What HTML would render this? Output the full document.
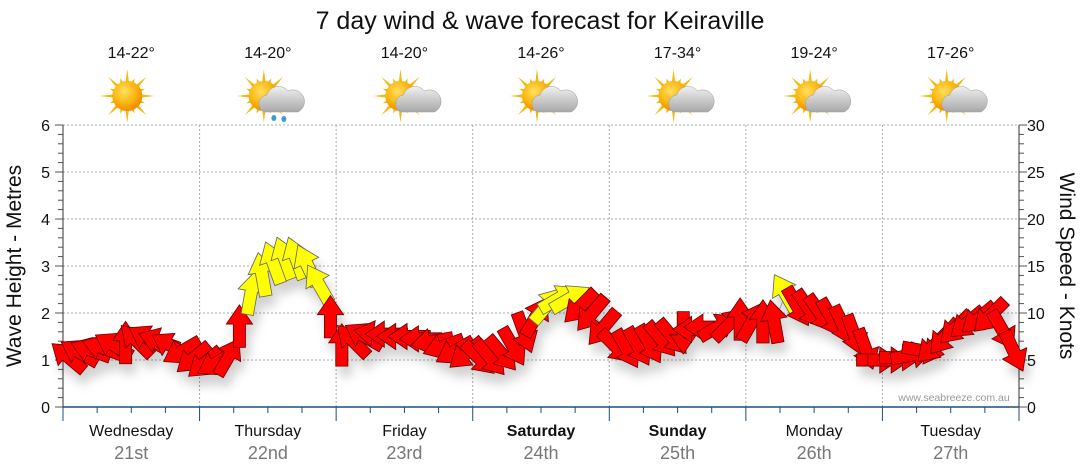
<!DOCTYPE html>
<html><head><meta charset="utf-8"><style>
body{margin:0;background:#fff;}
svg{display:block;font-family:"Liberation Sans",sans-serif;}
</style></head><body>
<svg id="c" width="1080" height="475" viewBox="0 0 1080 475" xmlns="http://www.w3.org/2000/svg">
<defs>
<filter id="sh" x="-50%" y="-50%" width="200%" height="200%"><feDropShadow dx="4" dy="10" stdDeviation="5" flood-color="#000" flood-opacity="0.18"/></filter>
<radialGradient id="sun" cx="40%" cy="35%" r="65%"><stop offset="0" stop-color="#ffe060"/><stop offset="0.6" stop-color="#fbb60e"/><stop offset="1" stop-color="#f08a00"/></radialGradient>
<linearGradient id="cloud" x1="0" y1="0" x2="0" y2="1"><stop offset="0" stop-color="#f0f0f0"/><stop offset="1" stop-color="#a8a8a8"/></linearGradient>
</defs>
<text x="540" y="29" text-anchor="middle" font-size="25" fill="#111">7 day wind &amp; wave forecast for Keiraville</text>
<g id="grid"></g>
<g id="axes"></g>
<g id="days"></g>
<g id="marks" filter="url(#sh)"></g>
<text x="954" y="401" text-anchor="middle" font-size="10.5" fill="#999">www.seabreeze.com.au</text>
<text transform="translate(21,266) rotate(-90)" text-anchor="middle" font-size="21" fill="#111">Wave Height - Metres</text>
<text transform="translate(1060,266) rotate(90)" text-anchor="middle" font-size="21" fill="#111">Wind Speed - Knots</text>
</svg>
<script>
const dayNames=["Wednesday","Thursday","Friday","Saturday","Sunday","Monday","Tuesday"];
const dates=["21st","22nd","23rd","24th","25th","26th","27th"];
const temps=["14-22°","14-20°","14-20°","14-26°","17-34°","19-24°","17-26°"];
const icons=["sun","rain","cloud","cloud","cloud","cloud","cloud"];
const waveTicks=[0,1,2,3,4,5,6];
const windTicks=[0,5,10,15,20,25,30];
// 2-hourly samples (12 per day)
const waveHeight=[1.05,1.15,1.2,1.25,1.3,1.35,1.4,1.45,1.4,1.3,1.2,1.05,
0.95,0.95,1.05,1.7,2.4,2.8,3.05,3.15,3.15,3.0,2.6,1.9,
1.3,1.4,1.5,1.55,1.55,1.5,1.5,1.45,1.4,1.3,1.2,1.15,
1.05,1.05,1.15,1.3,1.6,1.9,2.15,2.3,2.3,2.15,2.0,1.7,
1.3,1.25,1.3,1.35,1.45,1.5,1.6,1.65,1.7,1.7,1.75,1.85,
1.8,1.8,1.8,2.4,2.15,2.1,2.0,1.9,1.75,1.55,1.25,1.0,
1.0,1.05,1.1,1.2,1.3,1.5,1.7,1.8,1.9,1.95,1.65,1.2];
const windDir=[-50,-60,-70,-70,-60,0,-45,-60,-70,-60,-120,-130,
-130,-120,30,0,10,-10,-20,-20,-20,-25,-30,0,
0,-45,-60,-80,-90,-90,-90,-90,-100,-110,-120,-130,
135,140,140,150,160,30,40,60,60,-135,-140,-140,
135,150,150,150,140,140,180,-90,-90,60,45,0,
30,0,-10,-30,150,145,145,150,155,160,160,90,
90,90,80,100,-135,-140,-135,-130,-130,-135,150,155];
const windSpeed=[7,7,7,7,7,8,8,8,8,7,7,7,7,7,7,8,9,10,10,10,10,10,9,8,8,8,8,8,8,8,8,8,8,8,8,8,8,8,8,8,8,9,9,9,9,9,9,9,8,8,8,8,8,8,8,8,8,8,8,8,9,9,9,9,9,9,9,9,8,8,8,8,8,8,8,8,8,8,8,8,8,9,9,9];
const yellow=[0,0,0,0,0,0,0,0,0,0,0,0, 0,0,0,0,1,1,1,1,1,1,1,0, 0,0,0,0,0,0,0,0,0,0,0,0, 0,0,0,0,0,0,1,1,1,0,0,0, 0,0,0,0,0,0,0,0,0,0,0,0, 0,0,0,1,0,0,0,0,0,0,0,0, 0,0,0,0,0,0,0,0,0,0,0,0];

const X0=63,X1=1019,Y0=407,Y1=125;
const NS="http://www.w3.org/2000/svg";
const xs=t=>X0+(X1-X0)*t/(7*24);
const yL=v=>Y0-(Y0-Y1)*v/6;
const yR=v=>Y0-(Y0-Y1)*v/30;
function el(tag,attrs,parent,txt){const e=document.createElementNS(NS,tag);for(const k in attrs)e.setAttribute(k,attrs[k]);if(txt!==undefined)e.textContent=txt;parent.appendChild(e);return e;}
const grid=document.getElementById('grid'),axes=document.getElementById('axes'),days=document.getElementById('days'),marks=document.getElementById('marks');
waveTicks.forEach(v=>{
 if(v>0){const g=el('line',{x1:X0,x2:X1,y1:yL(v),y2:yL(v),stroke:'#aaa','stroke-dasharray':'2,2'},grid);
 
 }
 const t=el('text',{x:50,y:yL(v)+6,'text-anchor':'end','font-size':16,fill:'#111'},axes,v);
 
 
});
for(let i=0;i<=30;i++){const v=i*0.2;el('line',{x1:X0-(i%5==0?8:5),x2:X0,y1:yL(v),y2:yL(v),stroke:'#555'},axes);}
for(let i=0;i<=30;i++){el('line',{x1:X1,x2:X1+(i%5==0?8:5),y1:yR(i),y2:yR(i),stroke:'#555'},axes);}
windTicks.forEach(v=>{const t=el('text',{x:1027,y:yR(v)+6,'font-size':16,fill:'#111'},axes,v);
 
 });
el('line',{x1:X0,x2:X0,y1:Y1,y2:Y0,stroke:'#333'},axes);
el('line',{x1:X1,x2:X1,y1:Y1,y2:Y0,stroke:'#333'},axes);
el('line',{x1:X0,x2:X1,y1:Y0,y2:Y0,stroke:'#1f4e79','stroke-width':1.5},axes);
for(let h=0;h<=168;h+=6){el('line',{x1:xs(h),x2:xs(h),y1:Y0,y2:Y0+(h%24==0?14:6),stroke:'#1f4e79'},axes);}
for(let d=0;d<7;d++){
 if(d>0){const g=el('line',{x1:xs(d*24),x2:xs(d*24),y1:Y1,y2:Y0,stroke:'#aaa','stroke-dasharray':'2,2'},grid);
 
 }
 const cx=xs(d*24+12);
 const a=el('text',{x:cx,y:436,'text-anchor':'middle','font-size':16,fill:'#111','font-weight':(d==3||d==4)?'bold':'normal'},days,dayNames[d]);
 
 
 const b=el('text',{x:cx,y:459,'text-anchor':'middle','font-size':18,fill:'#777'},days,dates[d]);
 
 
 const t=el('text',{x:cx,y:58,'text-anchor':'middle','font-size':16,fill:'#111'},days,temps[d]);
 
 
 const g=el('g',{transform:`translate(${cx-4},96)`},days);
 
 
 let rays='';for(let k=0;k<16;k++){const an=k*Math.PI/8,L=k%2?19:27;rays+=`M${Math.cos(an-0.12)*14},${Math.sin(an-0.12)*14}L${Math.cos(an)*L},${Math.sin(an)*L}L${Math.cos(an+0.12)*14},${Math.sin(an+0.12)*14}Z`;}
 el('path',{d:rays,fill:'#f5b80f'},g);
 el('circle',{r:15,fill:'url(#sun)'},g);
 if(icons[d]!='sun'){
  el('path',{d:'M0,16 a9,9 0 0 1 3,-17 a12,12 0 0 1 21,-4 a10,10 0 0 1 10,21 Z',fill:'url(#cloud)',stroke:'#999','stroke-width':0.5},g);
  if(icons[d]=='rain'){el('ellipse',{cx:10,cy:22,rx:2.5,ry:3,fill:'#3a9be0'},g);el('ellipse',{cx:20,cy:23,rx:2.5,ry:3,fill:'#3a9be0'},g);}
 }
}
let pd='';waveHeight.forEach((v,i)=>{pd+=(i?'L':'M')+xs(i*2+1)+','+yL(v);});
el('path',{d:pd,fill:'none',stroke:'#999','stroke-width':1},marks);
waveHeight.forEach((v,i)=>{
 const s=0.85+windSpeed[i]*0.02;
 const p=el('path',{d:'M0,-22L13,-3L6,-3L6,20L-6,20L-6,-3L-13,-3Z',fill:yellow[i]?'#ffff00':'#ff0000',stroke:yellow[i]?'#666':'#600','stroke-width':0.8,
 transform:`translate(${xs(i*2+1)},${yL(v)}) rotate(${windDir[i]}) scale(${s})`},marks);
 
 
});
</script>
</body></html>
